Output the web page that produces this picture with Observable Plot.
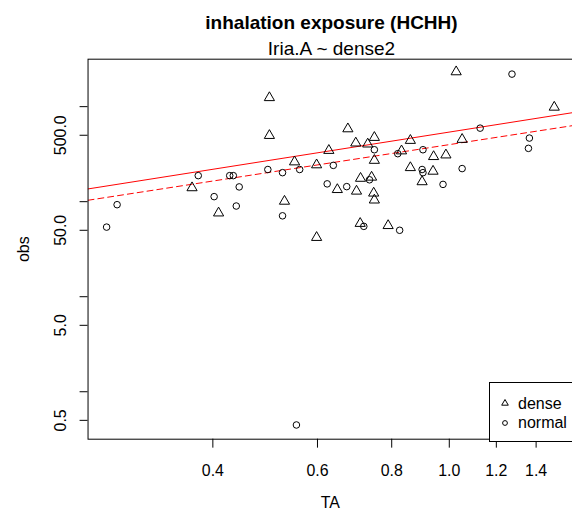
<!DOCTYPE html>
<html>
<head>
<meta charset="utf-8">
<script src="https://cdn.jsdelivr.net/npm/d3@7"></script>
<script src="https://cdn.jsdelivr.net/npm/@observablehq/plot@0.6"></script>
<style>
  html, body { margin: 0; padding: 0; background: #fff; overflow: hidden; }
  #wrap { position: relative; width: 572px; height: 521px; overflow: hidden; font-family: "Liberation Sans", Arial, Helvetica, sans-serif; color: #000; }
  #chart { position: absolute; left: 0; top: 0; }
  .ttl { position: absolute; left: 88px; width: 487px; text-align: center; line-height: 1; white-space: nowrap; }
  #title { top: 13px; font-size: 19px; font-weight: bold; }
  #subtitle { top: 39px; font-size: 19px; }
  #legend { position: absolute; left: 489px; top: 382px; width: 90px; height: 58px; border: 1px solid #000; background: #fff; font-size: 16px; }
  #legend .row { position: absolute; left: 0; height: 19px; line-height: 19px; white-space: nowrap; }
  #legend svg { position: absolute; left: 8px; top: 0; }
  #legend span { position: absolute; left: 28px; top: 0; }
</style>
</head>
<body>
<div id="wrap">
  <div id="chart"></div>
  <div class="ttl" id="title">inhalation exposure (HCHH)</div>
  <div class="ttl" id="subtitle">Iria.A ~ dense2</div>
  <div id="legend"></div>
</div>
<script>
// ---- data ----
const denseTA  = [0.369, 0.409, 0.498, 0.498, 0.528, 0.549, 0.598, 0.598, 0.627, 0.675, 0.696, 0.729, 0.748, 0.748, 0.860, 0.831, 0.941, 0.987, 1.051, 1.027, 1.502, 0.860, 0.939, 0.709, 0.740, 0.900, 0.648, 0.698, 0.746, 0.748, 0.708, 0.789];
const denseObs = [140, 76, 1243, 497, 101, 262, 244, 42, 346, 584, 414, 404, 474, 272, 441, 342, 298, 310, 452, 2325, 986, 228, 209, 176, 181, 162, 134, 129, 123, 104, 59, 56];

const normalTA  = [0.265, 0.276, 0.378, 0.402, 0.427, 0.433, 0.443, 0.438, 0.495, 0.524, 0.524, 0.560, 0.623, 0.638, 0.672, 0.718, 0.748, 0.734, 0.825, 0.819, 0.903, 0.900, 0.903, 0.976, 1.051, 1.127, 1.275, 1.364, 1.359, 0.553];
const normalObs = [54, 93, 188, 113, 188, 188, 143, 90, 218, 202, 71, 218, 154, 241, 144, 55, 352, 170, 50, 320, 352, 218, 202, 152, 223, 594, 2200, 467, 364, 0.447];

// fitted lines (solid = dense fit, dashed = normal fit)
const lineTA     = [0.2466, 1.612];
const solidObs   = [136.2, 864];
const dashedObs  = [103.5, 631];

// axes
const xDomain = [0.2466, 1.612];
const yDomain = [0.3167, 3158];
const xTicks = [0.4, 0.6, 0.8, 1.0, 1.2, 1.4];
const yTicks = [0.5, 1, 5, 10, 50, 100, 500, 1000];
const yTickLabels = [0.5, 5, 50, 500];
const seriesNames = ["dense", "normal"];

// ---- build tables ----
const dense = denseTA.map((t, i) => ({TA: t, obs: denseObs[i]}));
const normal = normalTA.map((t, i) => ({TA: t, obs: normalObs[i]}));
const solid = lineTA.map((t, i) => ({TA: t, obs: solidObs[i]}));
const dashed = lineTA.map((t, i) => ({TA: t, obs: dashedObs[i]}));

const fmt = d3.format(".1f");

const chart = Plot.plot({
  width: 575,
  height: 521,
  marginLeft: 88,
  marginRight: 0,
  marginTop: 59,
  marginBottom: 80,
  style: {fontFamily: '"Liberation Sans", Arial, Helvetica, sans-serif', fontSize: "16px", background: "transparent", color: "#000"},
  x: {type: "log", domain: xDomain},
  y: {type: "log", domain: yDomain},
  marks: [
    Plot.line(solid, {x: "TA", y: "obs", stroke: "#ff0000", strokeWidth: 1, clip: true}),
    Plot.line(dashed, {x: "TA", y: "obs", stroke: "#ff0000", strokeWidth: 1, strokeDasharray: "6,4", clip: true}),
    Plot.dot(dense, {x: "TA", y: "obs", symbol: "triangle", r: 3.8, stroke: "#000", strokeWidth: 1, fill: "none"}),
    Plot.dot(normal, {x: "TA", y: "obs", symbol: "circle", r: 3.3, stroke: "#000", strokeWidth: 1, fill: "none"}),
    Plot.frame({stroke: "#000", strokeWidth: 1}),
    Plot.axisX({ticks: xTicks, tickFormat: fmt, tickSize: 9, tickPadding: 17, label: null, fontSize: 16}),
    Plot.axisY({ticks: yTicks, tickFormat: () => "", tickSize: 8, label: null}),
    Plot.text(yTickLabels, {y: d => d, text: d => fmt(d), frameAnchor: "left", dx: -22, rotate: -90, textAnchor: "middle", lineAnchor: "bottom", fontSize: 16}),
    Plot.text(["TA"], {text: d => d, frameAnchor: "bottom", dy: 69, textAnchor: "middle", fontSize: 16}),
    Plot.text(["obs"], {text: d => d, frameAnchor: "left", dx: -64, rotate: -90, textAnchor: "middle", fontSize: 16})
  ]
});
document.getElementById("chart").appendChild(chart);

// ---- legend ----
const legend = document.getElementById("legend");
const symPaths = {
  dense: '<path d="M7,2.5 L10.3,8.2 L3.7,8.2 Z" fill="none" stroke="#000" stroke-width="1"/>',
  normal: '<circle cx="7" cy="6" r="2.4" fill="none" stroke="#000" stroke-width="1"/>'
};
seriesNames.forEach((name, i) => {
  const row = document.createElement("div");
  row.className = "row";
  row.style.top = (11 + i * 19) + "px";
  row.innerHTML = `<svg width="14" height="12" style="top:${i === 0 ? 3 : 4}px">${symPaths[name]}</svg><span>${name}</span>`;
  legend.appendChild(row);
});
</script>
</body>
</html>
